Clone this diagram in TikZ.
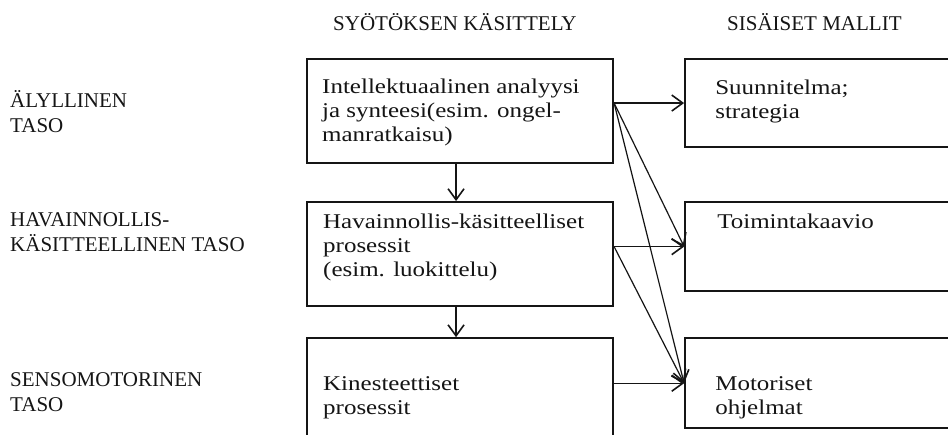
\documentclass[tikz,border=0pt]{standalone}
\usepackage{fontspec}
\setmainfont{Liberation Serif}
\newfontfamily\widefont{Liberation Serif}[FakeStretch=1.19]
\usetikzlibrary{arrows.meta,positioning}
\definecolor{ink}{HTML}{151515}

\begin{document}
\begin{tikzpicture}[x=1pt,y=-1pt,>={Straight Barb[length=11pt,width=16pt,line width=1.6pt]},
  caps/.style={anchor=base west,align=left,inner sep=0pt,text=ink,font=\fontsize{21}{25}\selectfont},
  inbox/.style={anchor=base west,align=left,inner sep=0pt,text=ink,font=\widefont\fontsize{21}{24}\selectfont},
  lbox/.style={draw=ink,line width=2.1pt,inner sep=0pt,minimum width=306pt},
  rbox/.style={draw=ink,line width=2.1pt,inner sep=0pt,minimum width=320pt},
  conn/.style={->,draw=ink,line width=1.2pt}]
\clip (0,0) rectangle (948,435);
\fill[white] (0,0) rectangle (948,435);

% otsikot
\node[caps] (hdin) at (333,31) {SYÖTÖKSEN KÄSITTELY};
\node[caps] (hdmod) at (727,31) {SISÄISET MALLIT};

% tasot (ankkuri = viimeisen rivin perusviiva)
\node[caps] (lvlaly) at (10,133) {ÄLYLLINEN\\TASO};
\node[caps] (lvlhav) at (10,252) {HAVAINNOLLIS-\\KÄSITTEELLINEN TASO};
\node[caps] (lvlsen) at (10,412) {SENSOMOTORINEN\\TASO};

% syötöksen käsittely
\node[lbox,anchor=north west,minimum height=104pt] (intel) at (306,58) {};
\node[lbox,minimum height=104pt,below=37pt of intel] (hav) {};
\node[lbox,minimum height=140pt,below=30pt of hav] (kin) {};

% sisäiset mallit
\node[rbox,minimum height=88pt,right=70pt of intel.north east,anchor=north west] (suun) {};
\node[rbox,minimum height=89pt,right=70pt of hav.north east,anchor=north west] (toim) {};
\node[rbox,minimum height=90pt,right=70pt of kin.north east,anchor=north west] (mot) {};

\node[inbox] (intelt) at ([xshift=16pt,yshift=-84pt]intel.north west) {Intellektuaalinen analyysi\\ja synteesi(esim. ongel-\\manratkaisu)};
\node[inbox] (havt) at ([xshift=17pt,yshift=-75pt]hav.north west) {Havainnollis-käsitteelliset\\prosessit\\(esim. luokittelu)};
\node[inbox] (kint) at ([xshift=17pt,yshift=-77pt]kin.north west) {Kinesteettiset\\prosessit};
\node[inbox] (suunt) at ([xshift=31pt,yshift=-61pt]suun.north west) {Suunnitelma;\\strategia};
\node[inbox] (toimt) at ([xshift=33pt,yshift=-27pt]toim.north west) {Toimintakaavio};
\node[inbox] (mott) at ([xshift=31pt,yshift=-77pt]mot.north west) {Motoriset\\ohjelmat};

% nuolet
\draw[conn,line width=1.7pt] ([xshift=-4pt]intel.south) -- ([xshift=-4pt]hav.north);
\draw[conn,line width=1.7pt] ([xshift=-4pt]hav.south) -- ([xshift=-4pt]kin.north);
\foreach \t in {suun,toim,mot} \draw[conn] (intel.east |- suun.west) -- (\t.west);
\foreach \t in {toim,mot} \draw[conn] (hav.east |- toim.west) -- (\t.west);
\draw[conn] (kin.east |- mot.west) -- (mot.west);
\end{tikzpicture}
\end{document}
